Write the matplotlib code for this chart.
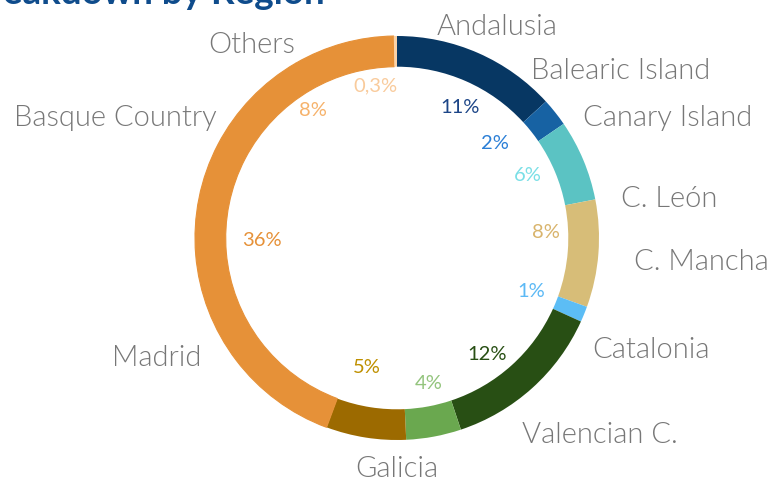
import matplotlib
matplotlib.use("Agg")
import matplotlib.pyplot as plt
from matplotlib import font_manager

# ---- data ----
regions = ["Andalusia", "Balearic Island", "Canary Island", "C. León", "C. Mancha",
           "Catalonia", "Valencian C.", "Galicia", "Madrid", "Basque Country", "Others"]
shares = [13.2, 2.25, 6.5, 8.6, 1.25, 13.1, 4.4, 6.4, 36.0, 8.1, 0.25]
pct_labels = ["11%", "2%", "6%", "8%", "1%", "12%", "4%", "5%", "36%", "8%", "0,3%"]
title = "Breakdown by Region"

# ---- styles ----
slice_colors = ["#073763", "#1762a3", "#5bc3c3", "#d7bd78", "#5cbdf5",
                "#284f14", "#6aa84f", "#9c6a00", "#e69138", "#e69138", "#fbd3a8"]
pct_colors = ["#1c4587", "#2b7fd6", "#7adfe6", "#d9b46c", "#5cb9f5",
              "#284f14", "#93c47d", "#bf9000", "#e69138", "#f6b26b", "#f9cb9c"]
# label positions (layout, in pie-radius units)
label_pos = [(0.495, 1.050), (1.109, 0.830), (1.342, 0.598), (1.347, 0.200),
             (1.505, -0.115), (1.257, -0.550), (1.005, -0.970), (0.0, -1.140),
             (-1.188, -0.590), (-1.396, 0.598), (-0.718, 0.958)]
pct_pos = [(0.312, 0.653), (0.485, 0.475), (0.649, 0.312), (0.738, 0.030),
           (0.663, -0.262), (0.446, -0.574), (0.158, -0.713), (-0.149, -0.634),
           (-0.668, -0.005), (-0.416, 0.634), (-0.109, 0.757)]

names = {f.name for f in font_manager.fontManager.ttflist}
fam = "Lato" if "Lato" in names else "DejaVu Sans"

fig = plt.figure(figsize=(7.7, 4.81), dpi=100)
ax = fig.add_axes([0, 0, 1, 1])
wedges, _ = ax.pie(shares, colors=slice_colors, startangle=90, counterclock=False,
                   radius=1.0, wedgeprops=dict(width=0.152, linewidth=0))
# hide the seam between the two orange wedges
for w in wedges[8:10]:
    w.set_edgecolor(w.get_facecolor())
    w.set_linewidth(0.8)
ax.set_xlim(-397 / 202, (770 - 397) / 202)
ax.set_ylim((239 - 481) / 202, 239 / 202)
ax.set_aspect("auto")
ax.axis("off")

for name, (x, y) in zip(regions, label_pos):
    ax.text(x, y, name, ha="center", va="center", fontsize=21,
            family=fam, fontweight=300, color="#777777")
for lab, col, (x, y) in zip(pct_labels, pct_colors, pct_pos):
    ax.text(x, y, lab, ha="center", va="center", fontsize=14.5,
            family=fam, color=col)

fig.text(325 / 770, 1 - 4 / 481, title, ha="right", va="baseline",
         fontsize=26.5, family=fam, fontweight="bold", color="#0f4c8c")

fig.savefig("out.png", dpi=100)
